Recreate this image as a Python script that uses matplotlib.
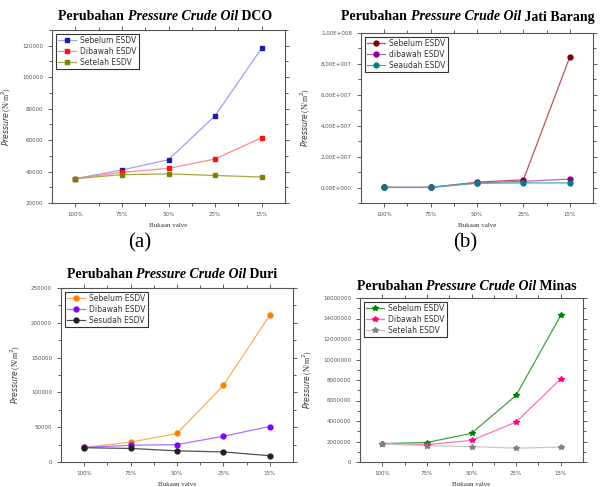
import matplotlib.pyplot as plt
import matplotlib.ticker as mticker
import numpy as np

cats = ["100%", "75%", "50%", "25%", "15%"]

dco_sebelum = [35500, 41000, 47500, 75500, 118500]
dco_dibawah = [35500, 39500, 42000, 48000, 61500]
dco_setelah = [35500, 38000, 38500, 37500, 36500]

jb_sebelum = [1e5, 1e5, 3.5e6, 5.0e6, 8.45e7]
jb_dibawah = [1e5, 1e5, 3.0e6, 4.0e6, 5.5e6]
jb_seaudah = [1e5, 1e5, 2.8e6, 3.0e6, 3.0e6]

duri_sebelum = [21000, 28500, 41000, 110000, 211000]
duri_dibawah = [21000, 24000, 25000, 37000, 51000]
duri_sesudah = [20500, 19500, 16000, 14500, 9000]

minas_sebelum = [1.8e6, 1.9e6, 2.8e6, 6.5e6, 1.43e7]
minas_dibawah = [1.8e6, 1.7e6, 2.1e6, 3.9e6, 8.1e6]
minas_setelah = [1.75e6, 1.6e6, 1.5e6, 1.35e6, 1.45e6]

W, H = 601, 487
fig = plt.figure(figsize=(W / 100, H / 100), dpi=100)


def px_axes(x0, y0, x1, y1):
    return fig.add_axes([x0 / W, 1 - y1 / H, (x1 - x0) / W, (y1 - y0) / H])


def title(cx, cy, place):
    parts = [("Perubahan ", "normal"), ("Pressure Crude Oil", "italic"), (" " + place, "normal")]
    r = fig.canvas.get_renderer()
    texts = []
    for s, st in parts:
        t = fig.text(0, 1 - cy / H, s, fontsize=10, fontweight="bold", style=st,
                     family="Liberation Serif", va="center", ha="left")
        texts.append(t)
    widths = [t.get_window_extent(r).width for t in texts]
    x = cx - sum(widths) / 2
    for t, w in zip(texts, widths):
        t.set_x(x / W)
        x += w


def panel(ax, series, ylim, yticks, fmt, marker, ms):
    x = np.arange(len(cats))
    for vals, lab, lc, mc in series:
        ax.plot(x, vals, color=lc, lw=0.9, marker=marker, ms=ms, mfc=mc, mec=mc, label=lab)
    ax.set_xlim(-0.5, 4.5)
    ax.set_ylim(*ylim)
    ax.set_xticks(x)
    ax.set_xticklabels(cats)
    ax.xaxis.set_minor_locator(mticker.FixedLocator(x[:-1] + 0.5))
    ax.set_yticks(yticks)
    step = yticks[1] - yticks[0]
    ax.yaxis.set_minor_locator(mticker.MultipleLocator(step / 2))
    ax.yaxis.set_major_formatter(mticker.FuncFormatter(fmt))
    ax.tick_params(which="both", direction="out", top=True, right=True, labelsize=4, colors="#444444",
                   labelcolor="#555555", width=0.6)
    ax.tick_params(which="major", length=3)
    ax.tick_params(which="minor", length=2)
    for s in ax.spines.values():
        s.set_color("#555555")
        s.set_linewidth(0.8)
    ax.set_xlabel("Bukaan valve", fontsize=5, family="Liberation Serif", color="#333333", labelpad=4)
    ax.set_ylabel(r"$\it{Pressure}$ (N/m$^2$)", fontsize=5.5, family="Liberation Serif", color="#333333",
                  labelpad=6)
    leg = ax.legend(loc="upper left", frameon=True, fancybox=False, edgecolor="black",
                    borderpad=0.3, labelspacing=0.25, handlelength=2.4, handletextpad=0.5,
                    borderaxespad=0.5, prop={"family": "DejaVu Sans", "size": 5.5})
    leg.get_frame().set_linewidth(0.8)
    for t in leg.get_texts():
        t.set_color("#333333")


plain = lambda v, p: f"{int(round(v))}"


def sci_comma(v, p):
    if v == 0:
        return "0,00E+000"
    e = int(np.floor(np.log10(abs(v))))
    m = v / 10 ** e
    return f"{m:.2f}".replace(".", ",") + f"E+{e:03d}"


ax1 = px_axes(52, 30, 285, 203)
panel(ax1, [(dco_sebelum, "Sebelum ESDV", "#a0a0ec", "#1c1ca0"),
            (dco_dibawah, "Dibawah ESDV", "#ff8a8a", "#ff1010"),
            (dco_setelah, "Setelah ESDV", "#a8a848", "#808000")],
      (20000, 130000), [20000, 40000, 60000, 80000, 100000, 120000], plain, "s", 3.5)
title(165, 17, "DCO")

ax2 = px_axes(361, 33, 593, 203)
panel(ax2, [(jb_sebelum, "Sebelum ESDV", "#b05858", "#800000"),
            (jb_dibawah, "dibawah ESDV", "#c060c0", "#880088"),
            (jb_seaudah, "Seaudah ESDV", "#40b0b0", "#008080")],
      (-1e7, 1e8), [0, 2e7, 4e7, 6e7, 8e7, 1e8], sci_comma, "o", 3.5)
title(468, 17, "Jati Barang")

ax3 = px_axes(61, 288, 293, 462)
panel(ax3, [(duri_sebelum, "Sebelum ESDV", "#ffac5a", "#ff8000"),
            (duri_dibawah, "Dibawah ESDV", "#b070ff", "#8000ff"),
            (duri_sesudah, "Sesudah ESDV", "#505050", "#202020")],
      (0, 250000), [0, 50000, 100000, 150000, 200000, 250000], plain, "o", 3.5)
title(172, 275, "Duri")

ax4 = px_axes(360, 298, 583, 462)
panel(ax4, [(minas_sebelum, "Sebelum ESDV", "#40a040", "#008000"),
            (minas_dibawah, "Dibawah ESDV", "#ff70b8", "#ff0080"),
            (minas_setelah, "Setelah ESDV", "#c8c8c8", "#808080")],
      (0, 1.6e7), [0, 2e6, 4e6, 6e6, 8e6, 1e7, 1.2e7, 1.4e7, 1.6e7], plain, "*", 4)
title(467, 287, "Minas")

fig.text(140 / W, 1 - 243 / H, "(a)", fontsize=15, family="Liberation Serif", ha="center", va="center")
fig.text(465 / W, 1 - 243 / H, "(b)", fontsize=15, family="Liberation Serif", ha="center", va="center")

fig.savefig("out.png", dpi=100)
